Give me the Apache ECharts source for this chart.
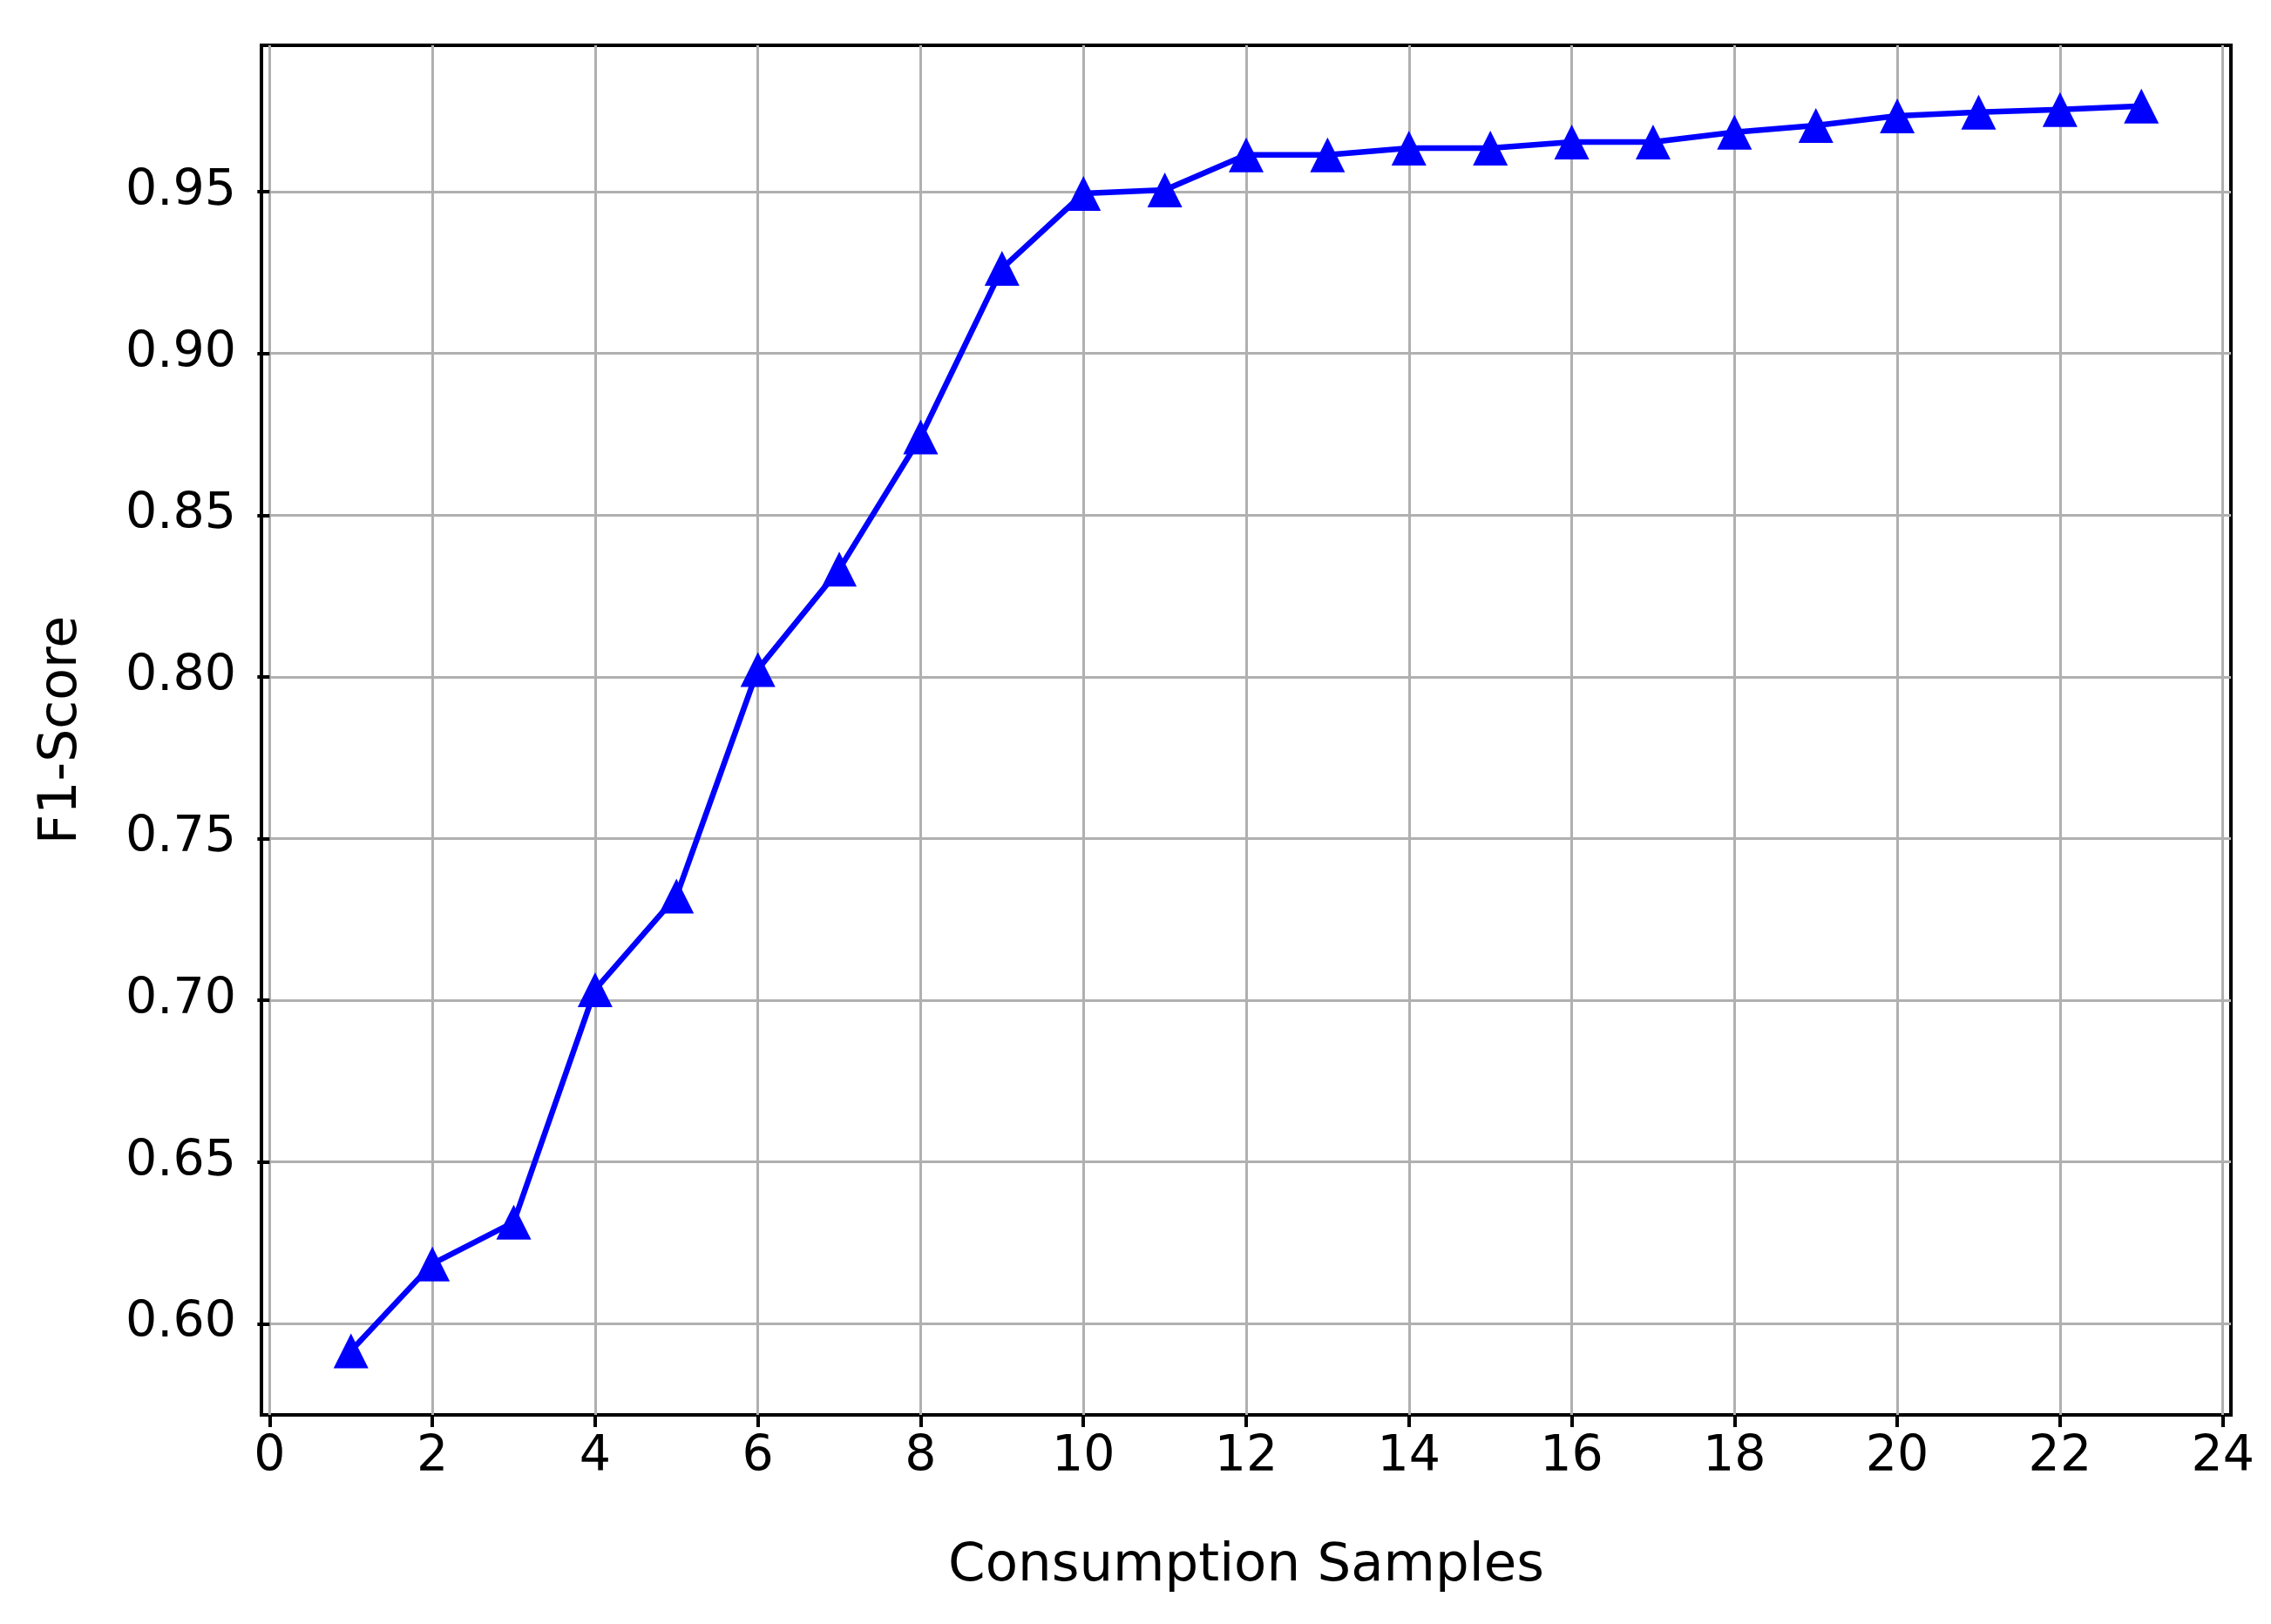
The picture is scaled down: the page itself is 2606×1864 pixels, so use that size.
<!DOCTYPE html>
<html>
<head>
<meta charset="utf-8">
<script src="https://cdn.jsdelivr.net/npm/echarts@6/dist/echarts.min.js"></script>
<style>
  html, body { margin: 0; padding: 0; background: #ffffff; }
  #chart { width: 2606px; height: 1864px; }
</style>
</head>
<body>
<div id="chart"></div>
<script>
const samples = [1, 2, 3, 4, 5, 6, 7, 8, 9, 10, 11, 12, 13, 14, 15, 16, 17, 18, 19, 20, 21, 22, 23];
const f1Score = [0.5916, 0.6185, 0.6314, 0.7033, 0.7322, 0.8023, 0.8333, 0.8742, 0.9263, 0.9495, 0.9506,
                 0.9614, 0.9614, 0.9635, 0.9635, 0.9654, 0.9654, 0.9684, 0.9705, 0.9735, 0.9746, 0.9754, 0.9765];
const xTicks = [0, 2, 4, 6, 8, 10, 12, 14, 16, 18, 20, 22, 24];
const yTicks = [0.60, 0.65, 0.70, 0.75, 0.80, 0.85, 0.90, 0.95];

const chart = echarts.init(document.getElementById('chart'), null, { renderer: 'canvas' });
const font = 'DejaVu Sans';

chart.setOption({
  animation: false,
  backgroundColor: '#ffffff',
  grid: {
    left: 300, right: 46, top: 52, bottom: 240,
    show: true, borderColor: '#000000', borderWidth: 4, backgroundColor: 'transparent',
    containLabel: false, outerBoundsMode: 'none'
  },
  xAxis: {
    type: 'value',
    min: -0.1, max: 24.1,
    name: 'Consumption Samples',
    nameLocation: 'middle',
    nameGap: 144,
    nameTextStyle: { fontFamily: font, fontSize: 61, color: '#000000' },
    axisLine: { show: false },
    axisTick: { show: true, length: 14, lineStyle: { color: '#000000', width: 4 }, customValues: xTicks },
    axisLabel: { fontFamily: font, fontSize: 57, color: '#000000', margin: 21, customValues: xTicks,
                 formatter: v => String(v) },
    splitLine: { show: true, lineStyle: { color: '#b0b0b0', width: 3 } }
  },
  yAxis: {
    type: 'value',
    min: 0.5718, max: 0.9953,
    name: 'F1-Score',
    nameLocation: 'middle',
    nameRotate: 90,
    nameGap: 199,
    nameTextStyle: { fontFamily: font, fontSize: 60, color: '#000000' },
    axisLine: { show: false },
    axisTick: { show: true, length: 14, lineStyle: { color: '#000000', width: 4 }, customValues: yTicks },
    axisLabel: { fontFamily: font, fontSize: 57, color: '#000000', margin: 29, customValues: yTicks,
                 formatter: v => v.toFixed(2) },
    splitLine: { show: true, lineStyle: { color: '#b0b0b0', width: 3 } }
  },
  series: [{
    type: 'line',
    data: samples.map((x, i) => [x, f1Score[i]]),
    symbol: 'triangle',
    symbolSize: [40, 40],
    showAllSymbol: true,
    lineStyle: { color: '#0000ff', width: 6.5 },
    itemStyle: { color: '#0000ff', borderWidth: 0 },
    z: 3
  }]
});
</script>
</body>
</html>
